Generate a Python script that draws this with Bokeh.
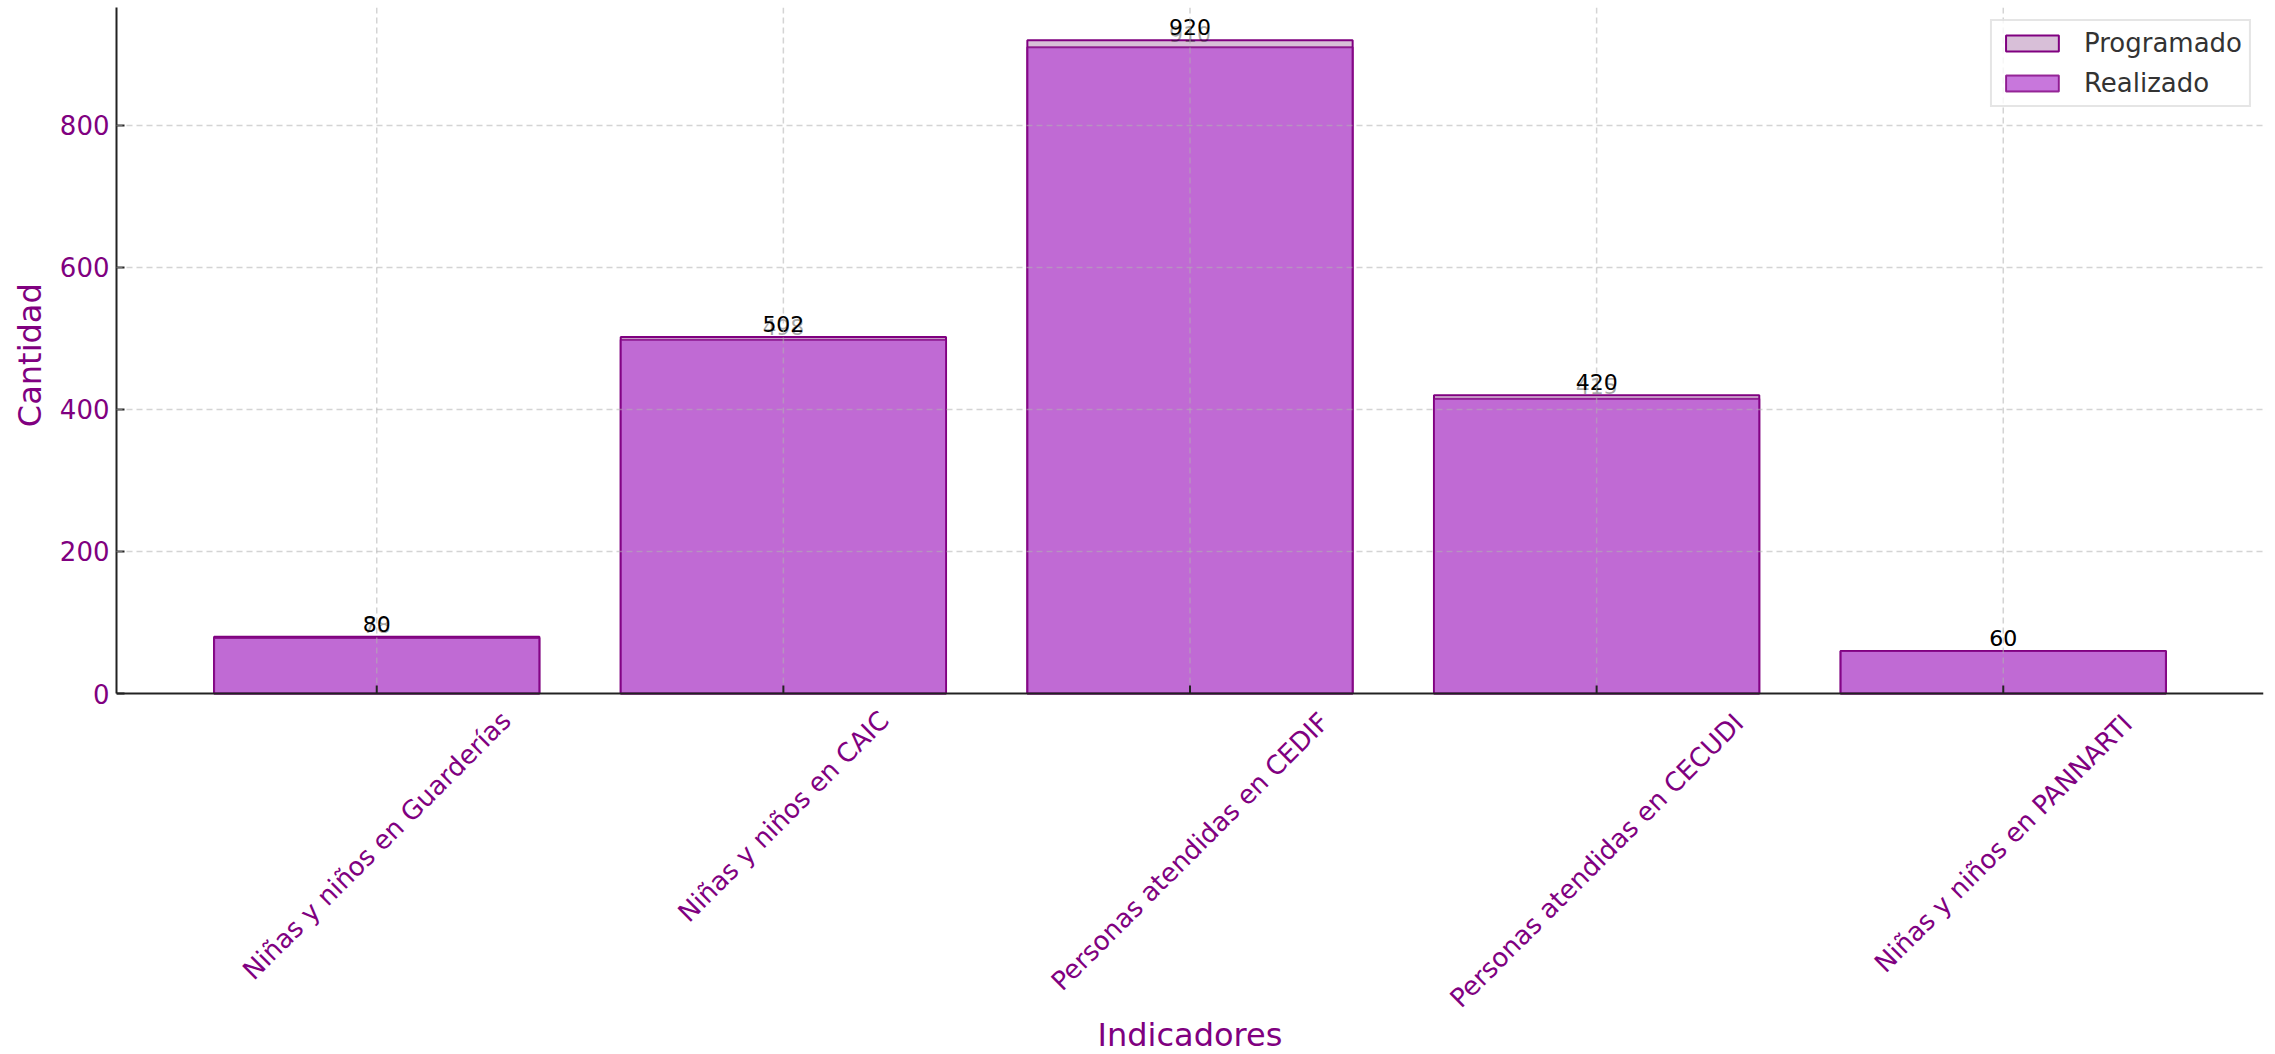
import math
from bokeh.plotting import figure
from bokeh.layouts import row
from bokeh.models import Range1d, FixedTicker, ColumnDataSource, Span
from bokeh.core.properties import value
from bokeh.embed import file_html
from bokeh.resources import INLINE

categories = ["Niñas y niños en Guarderías", "Niñas y niños en CAIC",
              "Personas atendidas en CEDIF", "Personas atendidas en CECUDI",
              "Niñas y niños en PANNARTI"]
programado = [80, 502, 920, 420, 60]
realizado = [78, 498, 910, 415, 60]
y_ticks = [0, 200, 400, 600, 800]

FONT = "DejaVu Sans"
PURPLE = "#800080"
AXIS = "#222222"
GRID = "#b0b0b0"

W, H = 2275, 1054
LEFT_W = 54                 # narrow panel holding the y-axis title
FRAME_LEFT = 116
TOP, ZERO = 7, 693          # pixel rows of the y-range top and of y=0
Y_MAX = 966
px_per_unit = (ZERO - TOP) / Y_MAX
Y_MIN = -(H - ZERO) / px_per_unit   # frame continues below the axis for the rotated labels

xs = list(range(len(categories)))

p = figure(width=W - LEFT_W, height=H, output_backend="svg", toolbar_location=None,
           x_range=Range1d(-0.64, len(categories) - 1 + 0.64), y_range=Range1d(Y_MIN, Y_MAX),
           x_axis_location=None,
           min_border_left=FRAME_LEFT - LEFT_W, min_border_right=12,
           min_border_top=TOP, min_border_bottom=0)
p.outline_line_color = None

src_p = ColumnDataSource(dict(x=xs, top=programado, lab=[str(v) for v in programado]))
src_r = ColumnDataSource(dict(x=xs, top=realizado, lab=[str(v) for v in realizado]))

p.vbar(x="x", top="top", width=0.8, source=src_p, fill_color="thistle",
       line_color=PURPLE, line_width=2, legend_label="Programado")
p.vbar(x="x", top="top", width=0.8, source=src_r, fill_color="mediumorchid", fill_alpha=0.8,
       line_color=PURPLE, line_alpha=0.8, line_width=2, legend_label="Realizado")

p.text(x="x", y="top", text="lab", source=src_r, text_align="center", text_baseline="bottom",
       y_offset=-5, text_font=value(FONT), text_font_size="22px", text_color="black",
       text_alpha=0.35)
p.text(x="x", y="top", text="lab", source=src_p, text_align="center", text_baseline="bottom",
       y_offset=-5, text_font=value(FONT), text_font_size="22px", text_color="black")

# vertical dashed grid lines, only over the plotting area
p.segment(x0=xs, y0=[0] * len(xs), x1=xs, y1=[Y_MAX] * len(xs), line_color=GRID,
          line_alpha=0.55, line_dash="6 4", line_width=1.5)
p.xgrid.visible = False

yg = p.ygrid[0]
yg.ticker = FixedTicker(ticks=y_ticks[1:])
yg.grid_line_color = GRID
yg.grid_line_alpha = 0.55
yg.grid_line_dash = "6 4"
yg.grid_line_width = 1.5
yg.level = "guide"

# y axis
ya = p.yaxis[0]
ya.bounds = (0, Y_MAX)
ya.axis_line_color = AXIS
ya.axis_line_width = 2
ya.major_tick_line_color = AXIS
ya.major_tick_line_width = 2
ya.major_tick_in = 8
ya.major_tick_out = 0
ya.minor_tick_line_color = None
ya.ticker = FixedTicker(ticks=y_ticks)
ya.major_label_text_font = FONT
ya.major_label_text_font_size = "26px"
ya.major_label_text_color = PURPLE
ya.major_label_standoff = 7

# x axis at y=0: baseline, inward ticks, rotated category labels, title
p.add_layout(Span(location=0, dimension="width", line_color=AXIS, line_width=2))
p.ray(x=xs, y=[0] * len(xs), length=8, length_units="screen", angle=math.pi / 2,
      line_color=AXIS, line_width=2)

label_drop = [152, 123, 158, 167, 150]
for i, cat in enumerate(categories):
    p.text(x=[i], y=[0], text=[cat], angle=math.pi / 4, y_offset=label_drop[i],
           text_align="center", text_baseline="middle", text_font=value(FONT),
           text_font_size="26px", text_color=PURPLE)

p.text(x=[(len(categories) - 1) / 2], y=[0], text=["Indicadores"], y_offset=341,
       text_align="center", text_baseline="middle", text_font=value(FONT),
       text_font_size="32px", text_color=PURPLE)

# legend
lg = p.legend[0]
lg.location = "top_right"
lg.margin = 12
lg.padding = 7
lg.spacing = 10
lg.glyph_width = 66
lg.glyph_height = 20
lg.label_height = 30
lg.label_standoff = 19
lg.label_text_font = FONT
lg.label_text_font_size = "26px"
lg.label_text_color = "#333333"
lg.border_line_color = "#cccccc"
lg.border_line_width = 2
lg.background_fill_alpha = 0.8

# left panel with the y-axis title (1 unit = 1 px)
pl = figure(width=LEFT_W, height=H, output_backend="svg", toolbar_location=None,
            x_range=Range1d(0, LEFT_W), y_range=Range1d(0, H),
            x_axis_location=None, y_axis_location=None,
            min_border_left=0, min_border_right=0, min_border_top=0, min_border_bottom=0)
pl.outline_line_color = None
pl.grid.visible = False
pl.text(x=[29], y=[H - (TOP + ZERO) / 2], text=["Cantidad"], angle=math.pi / 2,
        text_align="center", text_baseline="middle", text_font=value(FONT),
        text_font_size="32px", text_color=PURPLE)

layout = row(pl, p, spacing=0)
open("out.html", "w").write(file_html(layout, INLINE))
